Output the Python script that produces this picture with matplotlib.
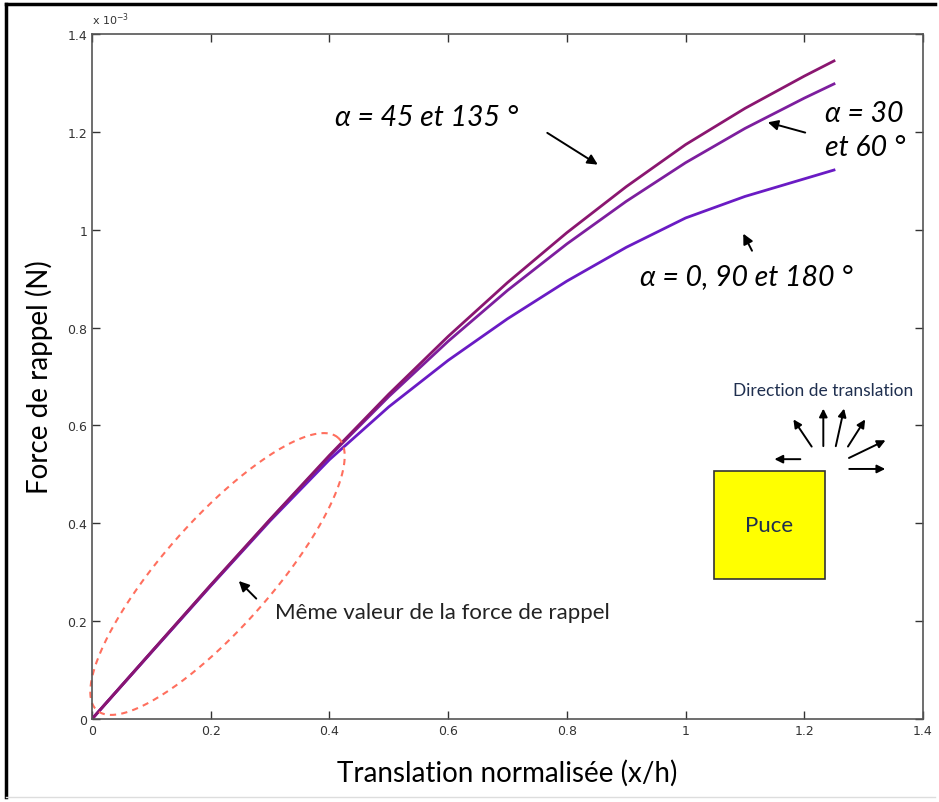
import numpy as np
import matplotlib.pyplot as plt
from matplotlib.patches import Rectangle

# ---------------------------------------
# Data (force in units of 1e-3 N)
# ---------------------------------------
x_norm = [0, 0.1, 0.2, 0.3, 0.4, 0.5, 0.6, 0.7, 0.8, 0.9, 1.0, 1.1, 1.2, 1.25]
f_45_135 = [0, 0.137, 0.274, 0.408, 0.539, 0.664, 0.782, 0.892, 0.994, 1.088, 1.174, 1.248, 1.314, 1.345]
f_30_60 = [0, 0.137, 0.273, 0.407, 0.537, 0.659, 0.772, 0.876, 0.971, 1.058, 1.137, 1.207, 1.269, 1.298]
f_0_90_180 = [0, 0.136, 0.272, 0.405, 0.530, 0.638, 0.733, 0.818, 0.895, 0.964, 1.024, 1.068, 1.104, 1.122]

x_ticks = [0, 0.2, 0.4, 0.6, 0.8, 1.0, 1.2, 1.4]
x_ticklabels = ["0", "0.2", "0.4", "0.6", "0.8", "1", "1.2", "1.4"]
y_ticks = [0, 0.2, 0.4, 0.6, 0.8, 1.0, 1.2, 1.4]
y_ticklabels = ["0", "0.2", "0.4", "0.6", "0.8", "1", "1.2", "1.4"]

# ---------------------------------------
# Figure
# ---------------------------------------
fig = plt.figure(figsize=(9.39, 8.03), dpi=100)
ax = fig.add_axes([0.098, 0.1034, 0.885, 0.853])

ax.plot(x_norm, f_0_90_180, color="#6A1BC4", lw=2.0, solid_joinstyle="round")
ax.plot(x_norm, f_30_60, color="#7D1E9E", lw=2.0, solid_joinstyle="round")
ax.plot(x_norm, f_45_135, color="#8A1670", lw=2.0, solid_joinstyle="round")

ax.set_xlim(0, 1.4)
ax.set_ylim(0, 1.4)
ax.set_xticks(x_ticks)
ax.set_xticklabels(x_ticklabels)
ax.set_yticks(y_ticks)
ax.set_yticklabels(y_ticklabels)
ax.tick_params(direction="in", length=6, top=True, right=True,
               labelsize=9, colors="#333333", width=1)
for s in ax.spines.values():
    s.set_color("#555555")
    s.set_linewidth(1.2)

ax.text(0.0, 1.01, "x 10$^{-3}$", transform=ax.transAxes, fontsize=8,
        color="#333333", ha="left", va="bottom")

lab_font = "Lato"
ax.set_xlabel("Translation normalisée (x/h)", fontsize=20, family=lab_font, labelpad=16)
ax.set_ylabel("Force de rappel (N)", fontsize=20, family=lab_font, labelpad=10)

# ---------------------------------------
# Annotations
# ---------------------------------------
arr = dict(arrowstyle="-|>", color="black", lw=1.4, mutation_scale=15)
itl = dict(fontsize=20.5, style="italic", family=lab_font, color="black", va="center")

ax.text(0.409, 1.230, "α = 45 et 135 °", **itl)
ax.annotate("", xy=(0.856, 1.130), xytext=(0.763, 1.201), arrowprops=arr)

ax.text(1.235, 1.204, "α = 30\net 60 °", linespacing=1.4, **itl)
ax.annotate("", xy=(1.134, 1.221), xytext=(1.206, 1.197), arrowprops=arr)

ax.text(0.923, 0.905, "α = 0, 90 et 180 °", **itl)
ax.annotate("", xy=(1.095, 0.997), xytext=(1.114, 0.952), arrowprops=arr)

ax.text(0.308, 0.219, "Même valeur de la force de rappel", fontsize=16,
        family=lab_font, color="#222222", va="center")
ax.annotate("", xy=(0.244, 0.286), xytext=(0.280, 0.242), arrowprops=arr)

# dashed ellipse around the overlapping region (built in pixel units, mapped to data)
t = np.linspace(0, 2 * np.pi, 300)
th = np.deg2rad(48.5)
a_px, b_px = 182, 54
ex = a_px * np.cos(t) * np.cos(th) - b_px * np.sin(t) * np.sin(th)
ey = a_px * np.cos(t) * np.sin(th) + b_px * np.sin(t) * np.cos(th)
ax.plot(0.2114 + ex / 593.6, 0.2963 + ey / 489.3, color="#FF6F5E",
        lw=1.5, ls=(0, (3, 2.5)), clip_on=False)

# chip sketch
ax.add_patch(Rectangle((1.048, 0.286), 0.187, 0.221, facecolor="#FFFF00",
                       edgecolor="#333333", lw=1.2))
ax.text(1.141, 0.396, "Puce", fontsize=16, family=lab_font, color="#1F2F4F",
        ha="center", va="center")
ax.text(1.231, 0.672, "Direction de translation", fontsize=12.5, family=lab_font,
        color="#1F2F4F", ha="center", va="center")

small = dict(arrowstyle="-|>", color="black", lw=1.4, mutation_scale=12)
dir_tails = [(1.198, 0.531), (1.215, 0.552), (1.232, 0.552), (1.252, 0.552),
             (1.271, 0.552), (1.271, 0.531), (1.271, 0.511)]
dir_heads = [(1.145, 0.531), (1.179, 0.617), (1.232, 0.640), (1.268, 0.640),
             (1.305, 0.617), (1.341, 0.572), (1.341, 0.511)]
for tl, hd in zip(dir_tails, dir_heads):
    ax.annotate("", xy=hd, xytext=tl, arrowprops=small, annotation_clip=False)

# outer frame of the original screenshot
fig.add_artist(plt.Line2D([0.006, 0.006], [0.006, 0.994], color="black", lw=2.5,
                          transform=fig.transFigure))
fig.add_artist(plt.Line2D([0.006, 0.996], [0.994, 0.994], color="black", lw=2.5,
                          transform=fig.transFigure))
fig.add_artist(plt.Line2D([0.006, 0.996], [0.006, 0.006], color="#DDDDDD", lw=1,
                          transform=fig.transFigure))

fig.savefig("out.png", dpi=100)
